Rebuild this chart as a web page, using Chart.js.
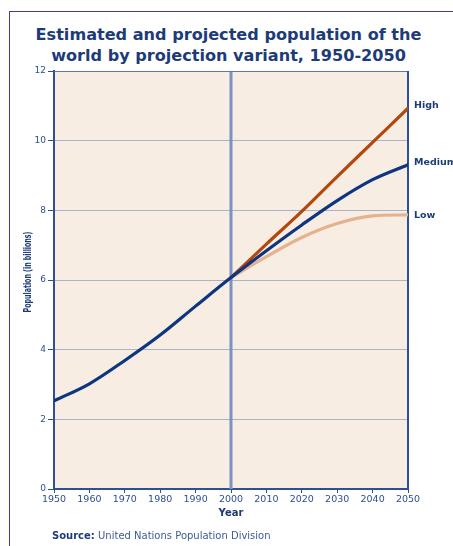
<!DOCTYPE html>
<html>
<head>
<meta charset="utf-8">
<script src="https://cdn.jsdelivr.net/npm/chart.js@4"></script>
<style>
  html, body { margin: 0; padding: 0; background: #ffffff; }
  #wrap { position: relative; width: 453px; height: 546px; overflow: hidden; }
  #frame { position: absolute; left: 9px; top: 11px; width: 460px; height: 560px;
           border-left: 1px solid #40409a; border-top: 1px solid #40409a; }
  #title { position: absolute; left: 0; top: 24px; width: 457px; text-align: center;
           font: bold 16.1px "DejaVu Sans", sans-serif; line-height: 21px; color: #1d3b78; }
  #source { position: absolute; left: 52px; top: 530px; white-space: nowrap;
            font: 10px "DejaVu Sans", sans-serif; color: #3b5b98; }
  #source b { color: #1d3b78; }
  canvas { position: absolute; left: 0; top: 0; }
</style>
</head>
<body>
<div id="wrap">
  <div id="frame"></div>
  <div id="title">Estimated and projected population of the<br>world by projection variant, 1950-2050</div>
  <canvas id="c" width="453" height="546"></canvas>
  <div id="source"><b>Source:</b> United Nations Population Division</div>
</div>
<script>
// ---- data (billions) ----
const estimateYears = [1950, 1960, 1970, 1980, 1990, 2000];
const estimate      = [2.53, 3.02, 3.69, 4.42, 5.25, 6.07];
const projYears     = [2000, 2010, 2020, 2030, 2040, 2050];
const medium        = [6.07, 6.84, 7.58, 8.28, 8.88, 9.31];
const high          = [6.07, 7.03, 7.97, 8.97, 9.95, 10.93];
const low           = [6.07, 6.67, 7.22, 7.62, 7.84, 7.87];
const variantNames  = ["High", "Medium", "Low"];
const xTicks        = [1950, 1960, 1970, 1980, 1990, 2000, 2010, 2020, 2030, 2040, 2050];
const yTicks        = [0, 2, 4, 6, 8, 10, 12];
const dividerYear   = 2000;

const toPts = (xs, ys) => xs.map((x, i) => ({ x: x, y: ys[i] }));
const mediumPts = toPts(estimateYears, estimate).concat(toPts(projYears.slice(1), medium.slice(1)));

const AXIS = '#2e4f96';
const TICK_TXT = '#2f4f8f';
const LABEL = '#1d3b78';

const bgPlugin = {
  id: 'decor',
  beforeDraw(chart) {
    const a = chart.chartArea, ctx = chart.ctx;
    ctx.save();
    ctx.fillStyle = '#f8ede3';
    ctx.fillRect(a.left, a.top, a.right - a.left, a.bottom - a.top);
    ctx.restore();
  },
  beforeDatasetsDraw(chart) {
    const a = chart.chartArea, ctx = chart.ctx, xs = chart.scales.x;
    ctx.save();
    const xd = xs.getPixelForValue(dividerYear);
    ctx.strokeStyle = '#7b93c3';
    ctx.lineWidth = 3;
    ctx.beginPath(); ctx.moveTo(xd, a.top); ctx.lineTo(xd, a.bottom); ctx.stroke();
    ctx.strokeStyle = '#5a76b0';
    ctx.lineWidth = 1;
    ctx.beginPath(); ctx.moveTo(a.left, a.top + 0.5); ctx.lineTo(a.right, a.top + 0.5); ctx.stroke();
    ctx.strokeStyle = AXIS;
    ctx.lineWidth = 2;
    ctx.beginPath(); ctx.moveTo(a.right, a.top); ctx.lineTo(a.right, a.bottom); ctx.stroke();
    ctx.restore();
  },
  afterDraw(chart) {
    const a = chart.chartArea, ctx = chart.ctx, ys = chart.scales.y, xs = chart.scales.x;
    ctx.save();
    ctx.fillStyle = LABEL;
    ctx.font = 'bold 9.5px "DejaVu Sans", sans-serif';
    ctx.textBaseline = 'middle';
    ctx.textAlign = 'left';
    const ends = [high[high.length - 1], medium[medium.length - 1], low[low.length - 1]];
    const offs = [-3, -2, 1];
    ends.forEach((v, i) => {
      ctx.fillText(variantNames[i], a.right + 6, ys.getPixelForValue(v) + offs[i]);
    });
    ctx.textAlign = 'center';
    ctx.font = 'bold 10px "DejaVu Sans", sans-serif';
    ctx.fillText('Year', xs.getPixelForValue(dividerYear), 513);
    ctx.translate(28.5, (a.top + a.bottom) / 2 - 8);
    ctx.rotate(-Math.PI / 2);
    ctx.font = 'bold 10px "DejaVu Sans", sans-serif';
    const t = 'Population (in billions)';
    const w = ctx.measureText(t).width;
    const target = 81;
    if (w > target) ctx.scale(target / w, 1);
    ctx.fillText(t, 0, 0);
    ctx.restore();
  }
};

new Chart(document.getElementById('c'), {
  type: 'line',
  data: {
    datasets: [
      { label: 'Medium', data: mediumPts, borderColor: '#0d3580', borderWidth: 3.2, order: 0 },
      { label: 'High', data: toPts(projYears, high), borderColor: '#b2480f', borderWidth: 3.2, order: 1 },
      { label: 'Low', data: toPts(projYears, low), borderColor: '#e6b28e', borderWidth: 3.2, order: 2 }
    ]
  },
  options: {
    responsive: false,
    animation: false,
    devicePixelRatio: 1,
    layout: { padding: { left: 0, right: 45, top: 71, bottom: 0 } },
    elements: {
      point: { radius: 0 },
      line: { cubicInterpolationMode: 'monotone', fill: false, borderCapStyle: 'round' }
    },
    plugins: { legend: { display: false }, tooltip: { enabled: false }, title: { display: false } },
    scales: {
      x: {
        type: 'linear', min: 1950, max: 2050,
        afterFit(s) { s.height = 57; },
        afterBuildTicks(s) { s.ticks = xTicks.map(v => ({ value: v })); },
        grid: { display: true, drawOnChartArea: false, drawTicks: true, tickLength: 4, tickColor: AXIS },
        border: { color: AXIS, width: 2 },
        ticks: { color: TICK_TXT, font: { family: 'DejaVu Sans', size: 9.5 }, padding: 1, maxRotation: 0, autoSkip: false,
                 callback: v => String(v) }
      },
      y: {
        min: 0, max: 12,
        afterFit(s) { s.width = 54; },
        afterBuildTicks(s) { s.ticks = yTicks.map(v => ({ value: v })); },
        grid: { color: '#aab3cc', lineWidth: 1, tickLength: 6, tickColor: AXIS },
        border: { color: AXIS, width: 2 },
        ticks: { color: TICK_TXT, font: { family: 'DejaVu Sans', size: 9 }, padding: 2, callback: v => String(v) }
      }
    }
  },
  plugins: [bgPlugin]
});
</script>
</body>
</html>
